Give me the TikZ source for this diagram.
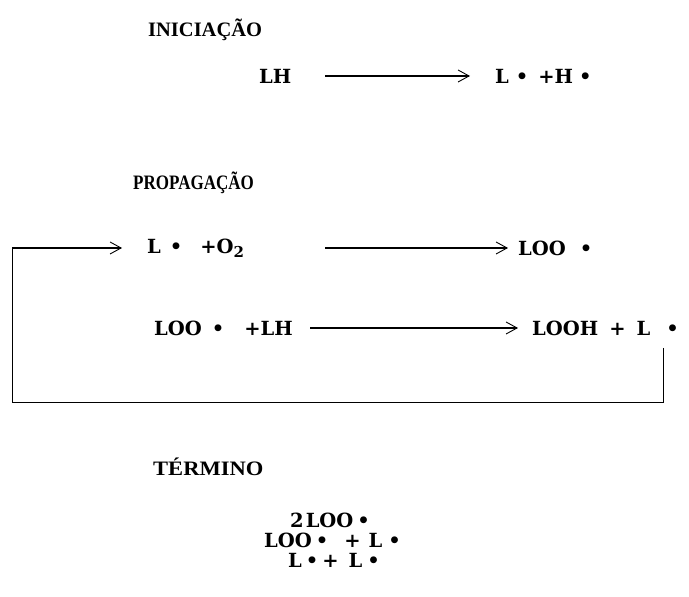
\documentclass[tikz,border=0pt]{standalone}
\usepackage{fontspec}
\setmainfont{Liberation Serif}
\newfontfamily\rxfont{DejaVu Serif}
\usetikzlibrary{arrows.meta}
\begin{document}
\begin{tikzpicture}[x=1pt,y=1pt,
  txt/.style={font=\rxfont\bfseries\fontsize{19.5}{22}\selectfont, inner sep=0pt, anchor=west},
  ttl/.style={font=\bfseries\fontsize{20.5}{23}\selectfont, inner sep=0pt, anchor=west},
  rxn/.style={draw, line width=1.1pt, -{Straight Barb[length=11pt,width=12pt,line width=0.9pt]}},
  loop/.style={draw, line width=0.9pt}]
\useasboundingbox (0,0) rectangle (689,597);
\node[ttl] (ini) at (148,567) {INICIAÇÃO};
\node[txt] (lh) at (259,521) {LH};
\node[txt] (lhp) at (495,521) {L\hspace{7pt}•\hspace{10pt}+H\hspace{6pt}•};
\draw[rxn] (325,521) -- (470,521);
\node[ttl] (prop) at (133,414) {\scalebox{0.83}[1]{PROPAGAÇÃO}};
\node[txt] (r1) at (147,349) {L\hspace{9pt}•\hspace{18pt}+O\raisebox{-0.4ex}{\fontsize{15}{15}\selectfont 2}};
\node[txt] (p1) at (518,349) {LOO\hspace{14pt}•};
\draw[rxn] (325,349) -- (508,349);
\node[txt] (r2) at (154,269) {LOO\hspace{10pt}•\hspace{20pt}+LH};
\node[txt] (p2) at (532,269) {LOOH\hspace{11pt}+\hspace{11pt}L\hspace{16pt}•};
\draw[rxn] (310,269) -- (518,269);
\coordinate (c1) at (663,249);
\coordinate (c2) at (663,195);
\coordinate (c3) at (12,195);
\coordinate (c4) at (12,349);
\draw[loop] (c1) -- (c2) -- (c3) -- (c4);
\draw[rxn] (c4) -- (122,349);
\node[ttl] (term) at (153,130) {\scalebox{1.1}[1]{TÉRMINO}};
\node[txt] (t1) at (290,77) {2\hspace{2pt}LOO\hspace{4pt}•};
\node[txt] (t2) at (264,57) {LOO\hspace{4pt}•\hspace{16pt}+\hspace{8pt}L\hspace{6pt}•};
\node[txt] (t3) at (288,37) {L\hspace{4pt}•\hspace{4pt}+\hspace{10pt}L\hspace{5pt}•};
\end{tikzpicture}
\end{document}
